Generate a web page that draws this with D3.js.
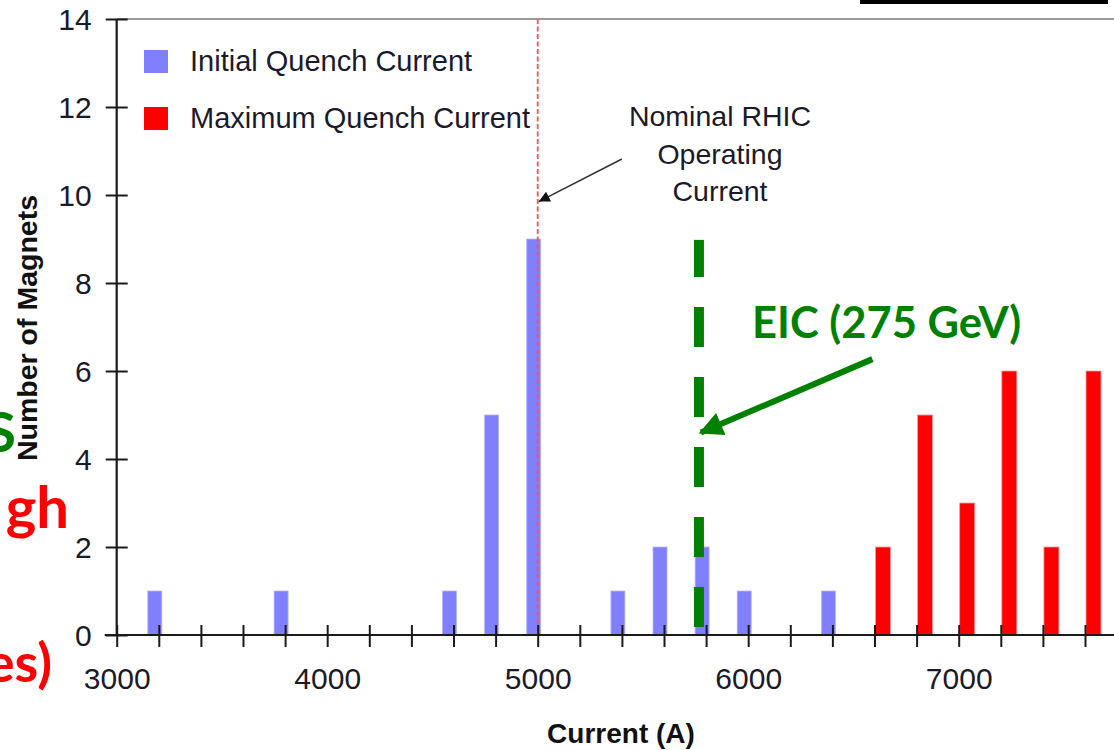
<!DOCTYPE html>
<html>
<head>
<meta charset="utf-8">
<script src="https://cdn.jsdelivr.net/npm/d3@7"></script>
<style>
  html, body { margin: 0; padding: 0; background: #fff; }
  svg { display: block; }
  .tick text { font-family: "Liberation Sans", Arial, sans-serif; fill: #1a1a2a; }
</style>
</head>
<body>
<svg id="chart" width="1114" height="750"></svg>
<script>
// Quench-current histogram: number of magnets per 200 A bin
const initialBins  = [3200, 3800, 4600, 4800, 5000, 5400, 5600, 5800, 6000, 6400];
const initialCount = [1, 1, 1, 5, 9, 1, 2, 2, 1, 1];
const maximumBins  = [6600, 6800, 7000, 7200, 7400, 7600];
const maximumCount = [2, 5, 3, 6, 2, 6];

const xTickValues  = d3.range(3000, 8001, 200);
const xTickLabels  = [3000, 4000, 5000, 6000, 7000];
const yTickValues  = [0, 2, 4, 6, 8, 10, 12, 14];

const legendLabels = ["Initial Quench Current", "Maximum Quench Current"];
const nominalCurrent = 5000;   // nominal RHIC operating current (A)
const eicCurrent = 5766;       // EIC 275 GeV operating current (A)

const colors = { initial: "#8080ff", maximum: "#ff0000", eic: "#008000" };

const svg = d3.select("#chart");
const x = d3.scaleLinear().domain([3000, 8000]).range([116.7, 1169.2]);
const y = d3.scaleLinear().domain([0, 14]).range([635, 19]);
const sans = '"Liberation Sans", Arial, sans-serif';
const slideFont = 'Lato, "Open Sans", sans-serif';

// plot-area top border and a black rule at the top-right
svg.append("line")
  .attr("x1", x(3000)).attr("x2", 1114)
  .attr("y1", y(14)).attr("y2", y(14))
  .attr("stroke", "#9a9a9a").attr("stroke-width", 2);
svg.append("rect").attr("x", 860).attr("y", 0).attr("width", 248).attr("height", 4).attr("fill", "#000");

// bars
const initialData = initialBins.map((b, i) => ({ bin: b, n: initialCount[i] }));
const maximumData = maximumBins.map((b, i) => ({ bin: b, n: maximumCount[i] }));

svg.append("g").selectAll("rect").data(initialData).join("rect")
  .attr("x", d => x(d.bin) - 11).attr("width", 14)
  .attr("y", d => y(d.n)).attr("height", d => y(0) - y(d.n))
  .attr("fill", colors.initial).attr("stroke", "#b4b4ff").attr("stroke-width", 0.8);

svg.append("g").selectAll("rect").data(maximumData).join("rect")
  .attr("x", d => x(d.bin) + 1).attr("width", 15)
  .attr("y", d => y(d.n)).attr("height", d => y(0) - y(d.n))
  .attr("fill", colors.maximum).attr("stroke", "#ff9a9a").attr("stroke-width", 0.8);

// nominal RHIC operating current marker
svg.append("line")
  .attr("x1", x(nominalCurrent)).attr("x2", x(nominalCurrent))
  .attr("y1", y(14)).attr("y2", y(0))
  .attr("stroke", "#ff5050").attr("stroke-width", 1.8)
  .attr("stroke-dasharray", "5,2.5");

// axes
const xAxis = svg.append("g").attr("transform", `translate(0,${y(0)})`)
  .call(d3.axisBottom(x).tickValues(xTickValues).tickSize(12)
    .tickFormat(d => xTickLabels.includes(d) ? d : ""));
xAxis.select(".domain").attr("stroke", "#1a1a1a").attr("stroke-width", 2.2)
  .attr("d", `M${x(3000) - 12},0H1114`);
xAxis.selectAll(".tick line").attr("y1", -10).attr("y2", 12)
  .attr("stroke", "#1a1a1a").attr("stroke-width", 2);
xAxis.selectAll(".tick text").attr("y", 33).attr("dy", "0.71em")
  .attr("font-size", 30).attr("font-family", sans).attr("fill", "#1a1a2a");

const yAxis = svg.append("g").attr("transform", `translate(${x(3000)},0)`)
  .call(d3.axisLeft(y).tickValues(yTickValues).tickSize(11));
yAxis.select(".domain").attr("stroke", "#1a1a1a").attr("stroke-width", 2.2)
  .attr("d", `M0,${y(14)}V${y(0)}`);
yAxis.selectAll(".tick line").attr("x1", -11).attr("x2", 11)
  .attr("stroke", "#1a1a1a").attr("stroke-width", 2);
yAxis.selectAll(".tick text").attr("x", -25).attr("dy", "0.36em")
  .attr("font-size", 30).attr("font-family", sans).attr("fill", "#1a1a2a");

// axis titles
svg.append("text").attr("x", 621).attr("y", 743)
  .attr("text-anchor", "middle").attr("font-family", sans)
  .attr("font-weight", "bold").attr("font-size", 28).attr("fill", "#111")
  .text("Current (A)");

// slide text running in from the left edge
svg.append("text").attr("x", 16).attr("y", 452)
  .attr("text-anchor", "end").attr("font-family", slideFont)
  .attr("font-weight", "bold").attr("font-size", 56).attr("fill", colors.eic)
  .text("S");

svg.append("text").attr("transform", "translate(37,328) rotate(-90)")
  .attr("text-anchor", "middle").attr("font-family", sans)
  .attr("font-weight", "bold").attr("font-size", 28.5).attr("fill", "#111")
  .text("Number of Magnets");

svg.append("text").attr("x", 69).attr("y", 528)
  .attr("text-anchor", "end").attr("font-family", slideFont)
  .attr("font-weight", "bold").attr("font-size", 58).attr("fill", colors.maximum)
  .text("gh");
svg.append("text").attr("x", 52).attr("y", 682)
  .attr("text-anchor", "end").attr("font-family", slideFont)
  .attr("font-weight", "bold").attr("font-size", 54).attr("fill", colors.maximum)
  .text("es)");

// legend
const legend = svg.append("g");
[colors.initial, colors.maximum].forEach((c, i) => {
  legend.append("rect").attr("x", 144).attr("y", 50 + i * 57)
    .attr("width", 24).attr("height", 23).attr("fill", c);
  legend.append("text").attr("x", 190).attr("y", 61 + i * 57).attr("dy", "0.36em")
    .attr("font-family", sans).attr("font-size", 29).attr("fill", "#1a1a2a")
    .text(legendLabels[i]);
});

// "Nominal RHIC Operating Current" annotation
const defs = svg.append("defs");
defs.append("marker").attr("id", "blackHead").attr("viewBox", "0 0 10 10")
  .attr("refX", 10).attr("refY", 5).attr("markerWidth", 14).attr("markerHeight", 11)
  .attr("markerUnits", "userSpaceOnUse").attr("orient", "auto")
  .append("path").attr("d", "M0,0L10,5L0,10Z").attr("fill", "#111");

svg.append("line")
  .attr("x1", x(5400)).attr("y1", y(10.82))
  .attr("x2", x(5005)).attr("y2", y(9.85))
  .attr("stroke", "#333").attr("stroke-width", 1.6)
  .attr("marker-end", "url(#blackHead)");

const nominalText = svg.append("text").attr("text-anchor", "middle")
  .attr("font-family", sans).attr("font-size", 28.5).attr("fill", "#1a1a2a");
["Nominal RHIC", "Operating", "Current"].forEach((t, i) => {
  nominalText.append("tspan").attr("x", x(5866)).attr("y", 126 + i * 37.5).text(t);
});

// EIC 275 GeV operating current
svg.append("line")
  .attr("x1", x(eicCurrent)).attr("x2", x(eicCurrent))
  .attr("y1", y(0.18)).attr("y2", y(8.98))
  .attr("stroke", colors.eic).attr("stroke-width", 10)
  .attr("stroke-dasharray", "40,30");

defs.append("marker").attr("id", "greenHead").attr("viewBox", "0 0 10 10")
  .attr("refX", 9).attr("refY", 5).attr("markerWidth", 28).attr("markerHeight", 24)
  .attr("markerUnits", "userSpaceOnUse").attr("orient", "auto")
  .append("path").attr("d", "M0,0L10,5L0,10Z").attr("fill", colors.eic);

svg.append("line")
  .attr("x1", x(6590)).attr("y1", y(6.27))
  .attr("x2", x(eicCurrent) + 2).attr("y2", y(4.6))
  .attr("stroke", colors.eic).attr("stroke-width", 6)
  .attr("marker-end", "url(#greenHead)");

svg.append("text").attr("x", 752).attr("y", 338)
  .attr("font-family", slideFont).attr("font-weight", "bold")
  .attr("font-size", 43.5).attr("fill", colors.eic)
  .text("EIC (275 GeV)");
</script>
</body>
</html>
